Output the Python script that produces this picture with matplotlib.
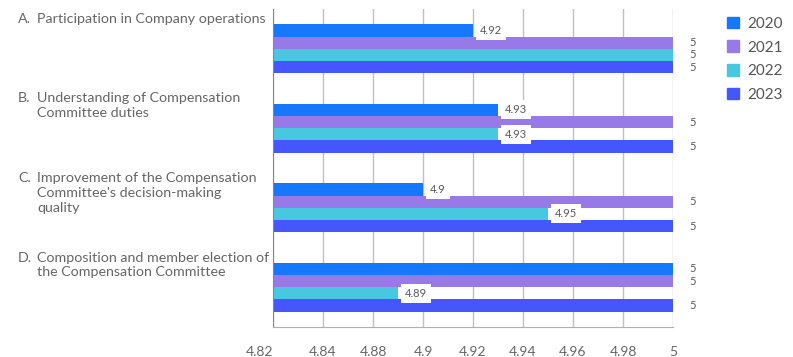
import numpy as np
import matplotlib
matplotlib.use("Agg")
import matplotlib.pyplot as plt
from matplotlib.patches import Patch
from matplotlib.transforms import blended_transform_factory

plt.rcParams['font.family'] = ['Lato', 'DejaVu Sans']

# data
letters = ["A.", "B.", "C.", "D."]
questions = [
    "Participation in Company operations",
    "Understanding of Compensation\nCommittee duties",
    "Improvement of the Compensation\nCommittee's decision-making\nquality",
    "Composition and member election of\nthe Compensation Committee",
]
years = ["2020", "2021", "2022", "2023"]
scores_2020 = [4.92, 4.93, 4.9, 5]
scores_2021 = [5, 5, 5, 5]
scores_2022 = [5, 4.93, 4.95, 4.89]
scores_2023 = [5, 5, 5, 5]
tick_labels = ["4.82", "4.84", "4.88", "4.9", "4.92", "4.94", "4.96", "4.98", "5"]

series = [scores_2020, scores_2021, scores_2022, scores_2023]
colors = ["#1677ff", "#9779e8", "#48c7e0", "#4656ff"]

fig = plt.figure(figsize=(7.93, 3.57), dpi=100)
ax = fig.add_axes([273/793, 1 - 327/357, 400/793, 318/357])

xmin, xmax = 4.84, 5.0
bar_h = 0.154
y = np.arange(len(questions))
for k, (vals, col) in enumerate(zip(series, colors)):
    ypos = y + (k - 1.5) * bar_h
    widths = np.array(vals) - xmin
    ax.barh(ypos, widths, left=xmin, height=bar_h, color=col, zorder=2)
    for yy, v in zip(ypos, vals):
        if v >= xmax:
            ax.annotate(f"{v:g}", (v, yy), xytext=(11.5, 0), textcoords="offset points",
                        ha="left", va="center", fontsize=8, color="#595959",
                        annotation_clip=False)
        else:
            ax.annotate(f"{v:g}", (v, yy), xytext=(5, 0), textcoords="offset points",
                        ha="left", va="center", fontsize=8, color="#595959", zorder=4,
                        bbox=dict(boxstyle="square,pad=0.35", fc="white", ec="none"))

ax.set_xlim(xmin, xmax)
ax.set_ylim(3.5, -0.5)
ticks = np.linspace(xmin, xmax, len(tick_labels))
ax.set_xticks(ticks)
ax.set_xticklabels(tick_labels, fontsize=10, color="#666666")
ax.get_xticklabels()[0].set_horizontalalignment("right")
ax.tick_params(axis="x", length=0, pad=14)
ax.set_yticks([])
ax.grid(axis="x", color="#c0c0c0", lw=1, zorder=0)
ax.set_axisbelow(True)
for s in ["top", "right"]:
    ax.spines[s].set_visible(False)
ax.spines["left"].set_color("#888888")
ax.spines["bottom"].set_color("#b0b0b0")

# category labels
tr = blended_transform_factory(fig.transFigure, ax.transData)
for i, (let, q) in enumerate(zip(letters, questions)):
    ty = i - 0.5 + 4 / 79.5
    fig.text(18/793, ty, let, transform=tr, ha="left", va="top",
             fontsize=10.3, color="#666666")
    fig.text(37/793, ty, q, transform=tr, ha="left", va="top",
             fontsize=10.3, color="#666666", linespacing=1.3)

handles = [Patch(color=c) for c in colors]
fig.legend(handles, years, loc="upper left", bbox_to_anchor=(713/793, 1 - 3/357),
           frameon=False, fontsize=11, handlelength=0.8, handleheight=0.8,
           handletextpad=0.55, labelspacing=0.62, labelcolor="#555555")

fig.savefig("out.png", dpi=100)
